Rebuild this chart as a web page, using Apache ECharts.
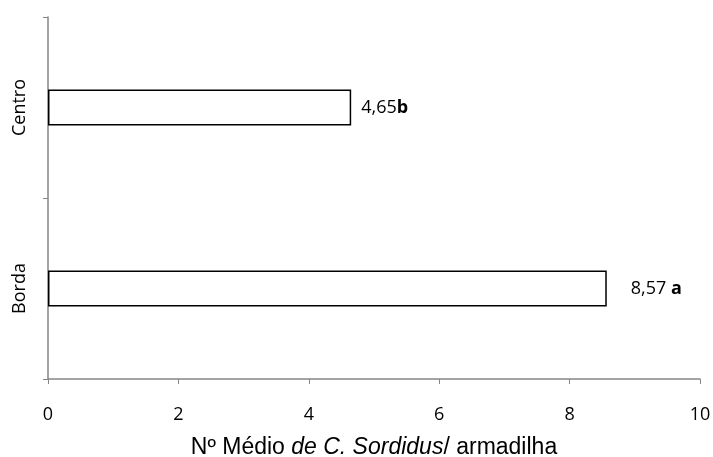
<!DOCTYPE html>
<html>
<head>
<meta charset="utf-8">
<script src="https://cdn.jsdelivr.net/npm/echarts@6/dist/echarts.min.js"></script>
<style>html,body{margin:0;padding:0;background:#fff}#c{width:713px;height:457px}</style>
</head>
<body>
<div id="c"></div>
<script>
var categories = ['Borda', 'Centro'];
var values = [8.57, 4.65];
var letters = ['a', 'b'];
var valueLabels = ['8,57', '4,65'];
var xTicks = [0, 2, 4, 6, 8, 10];

var chart = echarts.init(document.getElementById('c'), null, {renderer: 'canvas'});
var axisColor = '#868686';
var font = '"Open Sans", "DejaVu Sans", sans-serif';
var titleFont = '"Liberation Sans", Arial, sans-serif';

var data = values.map(function (v, i) {
  return {
    value: v,
    label: {
      distance: i === 0 ? 24 : 10,
      formatter: valueLabels[i] + (i === 0 ? ' ' : '') + '{b|' + letters[i] + '}'
    }
  };
});

chart.setOption({
  animation: false,
  grid: {left: 48, right: 13, top: 17, bottom: 78, containLabel: false, outerBoundsMode: 'none'},
  xAxis: {
    type: 'value',
    min: xTicks[0],
    max: xTicks[xTicks.length - 1],
    interval: 2,
    splitLine: {show: false},
    axisLine: {show: true, lineStyle: {color: axisColor, width: 1.5}},
    axisTick: {show: true, length: 5, lineStyle: {color: axisColor}},
    axisLabel: {color: '#000', fontFamily: font, fontSize: 18, margin: 27},
    name: 'Nº Médio {i|de C. Sordidus}/ armadilha',
    nameLocation: 'middle',
    nameGap: 57,
    nameTextStyle: {
      color: '#000', fontFamily: titleFont, fontSize: 23,
      rich: {i: {fontStyle: 'italic', fontFamily: titleFont, fontSize: 23, color: '#000'}}
    }
  },
  yAxis: {
    type: 'category',
    data: categories,
    axisLine: {show: true, lineStyle: {color: axisColor, width: 1.5}},
    axisTick: {show: true, length: 5, alignWithLabel: false, lineStyle: {color: axisColor}},
    axisLabel: {color: '#000', fontFamily: font, fontSize: 18, rotate: 90, margin: 19}
  },
  series: [{
    type: 'bar',
    data: data,
    barWidth: 36,
    itemStyle: {color: '#fff', borderColor: '#000', borderWidth: 1.5},
    label: {
      show: true,
      position: 'right',
      color: '#000',
      fontFamily: font,
      fontSize: 18,
      rich: {b: {fontWeight: 'bold', fontFamily: font, fontSize: 18, color: '#000'}}
    }
  }]
});
</script>
</body>
</html>
